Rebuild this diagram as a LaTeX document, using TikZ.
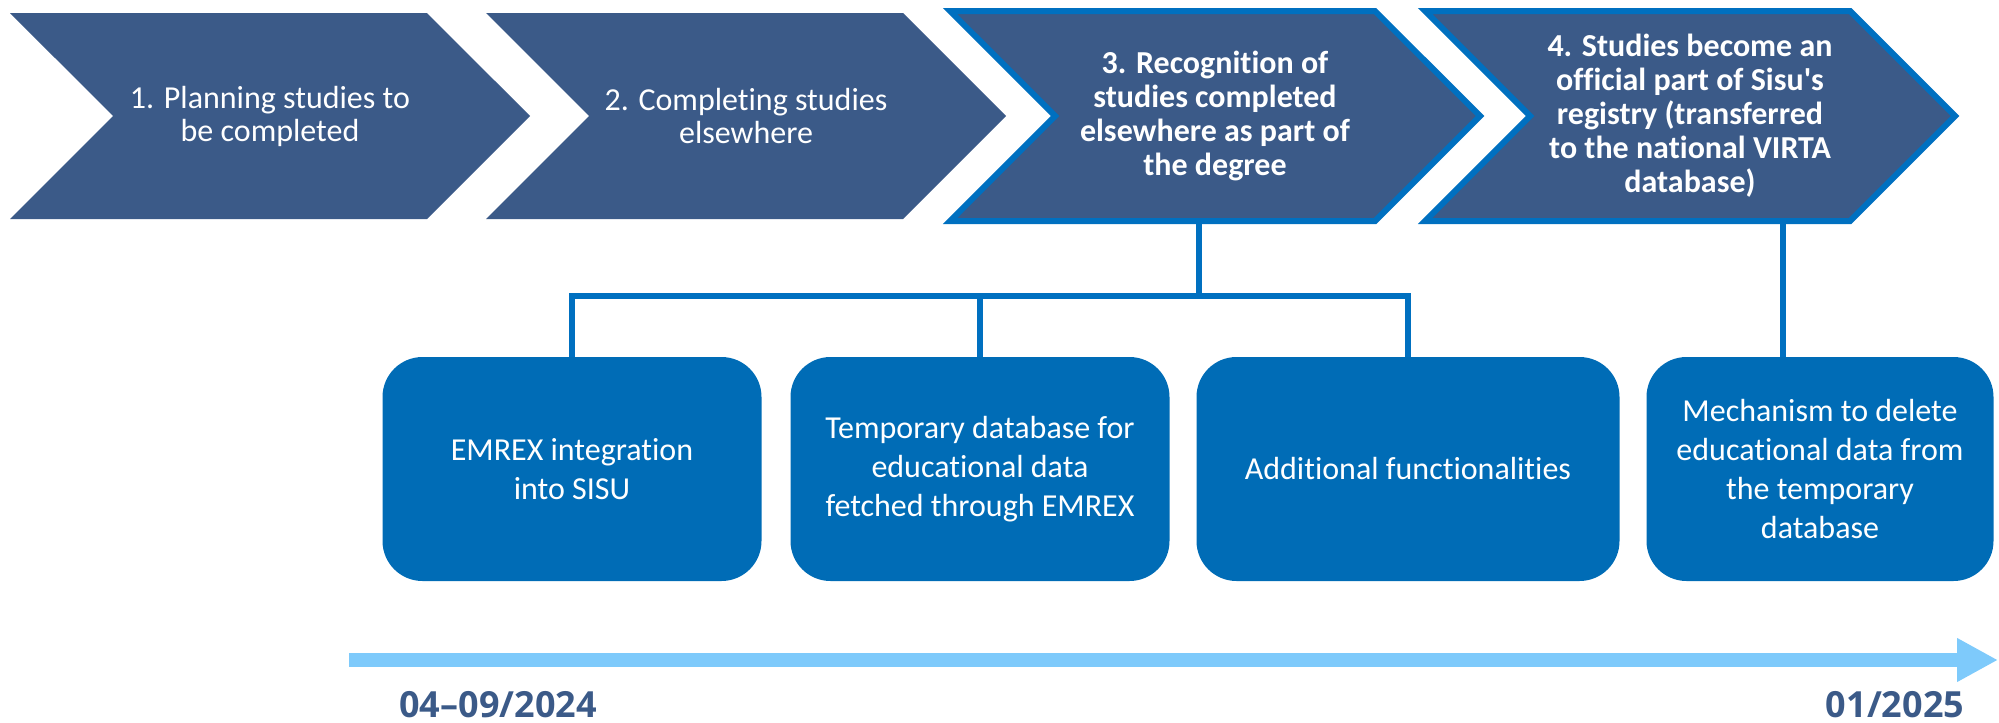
\documentclass[tikz,border=0pt]{standalone}
\usepackage{fontspec}
\setmainfont{Carlito}[Ligatures={TeX,NoCommon}]
\newfontfamily\datefont{Open Sans}
\usetikzlibrary{shapes.symbols}
\usetikzlibrary{arrows.meta}
\definecolor{phaseblue}{RGB}{59,90,136}
\definecolor{taskblue}{RGB}{0,108,182}
\definecolor{edgeblue}{RGB}{0,112,192}
\definecolor{lineblue}{RGB}{126,202,251}
\tikzset{
phase/.style={ % Sets the chevron of each phase
shape=signal, signal from=west, signal to=east,
signal pointer angle=90,
fill=phaseblue, text=white, align=center, inner sep=0pt,
minimum width=260pt, minimum height=103pt,
font=\fontsize{16pt}{16.5pt}\selectfont},
phase now/.style={ % Phases with a task below
phase, draw=edgeblue, line width=3pt,
minimum width=265pt, minimum height=105pt,
font=\bfseries\fontsize{16pt}{17pt}\selectfont},
task/.style={ % Sets the rounded boxes
fill=taskblue, text=white, align=center,
rounded corners=20pt, inner sep=0pt,
minimum width=189.5pt, minimum height=112pt,
font=\fontsize{16pt}{19.5pt}\selectfont},
link/.style={draw=edgeblue, line width=2.75pt},
timeline/.style={draw=lineblue, line width=7pt,
-{Triangle[width=20.5pt,length=20.5pt]}},
datelabel/.style={text=phaseblue, anchor=base, inner sep=0pt,
font=\datefont\bfseries\fontsize{18pt}{18pt}\selectfont}}

\begin{document}
\begin{tikzpicture}[x=0.5pt, y=-0.5pt]
\useasboundingbox (0,0) rectangle (1999,723);
% phases
\node[phase] (s1) at (270,116) {1. Planning studies to\\be completed};
\node[phase] (s2) at (746,116) {2. Completing studies\\elsewhere};
\node[phase now] (s3) at (1215,116) {3. Recognition of\\studies completed\\elsewhere as part of\\the degree};
\node[phase now] (s4) at (1690,116) {4. Studies become an\\official part of Sisu\textquotesingle s\\registry (transferred\\to the national VIRTA\\database)};
% tasks
\node[task] (b1) at (572,469) {EMREX integration\\into SISU};
\node[task] (b2) at (980,469) {Temporary database for\\educational data\\fetched through EMREX};
\node[task, minimum width=211.5pt] (b3) at (1408,469) {Additional functionalities};
\node[task, minimum width=173.5pt] (b4) at (1820,469) {Mechanism to delete\\educational data from\\the temporary\\database};
% links
\draw[link] ([xshift=-8pt]s3.south) -- ++(0,72) coordinate (bus);
\draw[link] (b1.north) |- (bus) -| (b3.north);
\draw[link] (b2.north) -- (b2.north |- bus);
\draw[link] ([xshift=-18.5pt]b4.north) -- ([xshift=-18.5pt]b4.north |- s4.south);
% timeline
\coordinate (t0) at (349,660);
\coordinate (t1) at (1998,660);
\draw[timeline] (t0) -- (t1);
\node[datelabel] (d0) at (498,717) {04–09/2024};
\node[datelabel] (d1) at (1895,717) {01/2025};
\end{tikzpicture}
\end{document}
